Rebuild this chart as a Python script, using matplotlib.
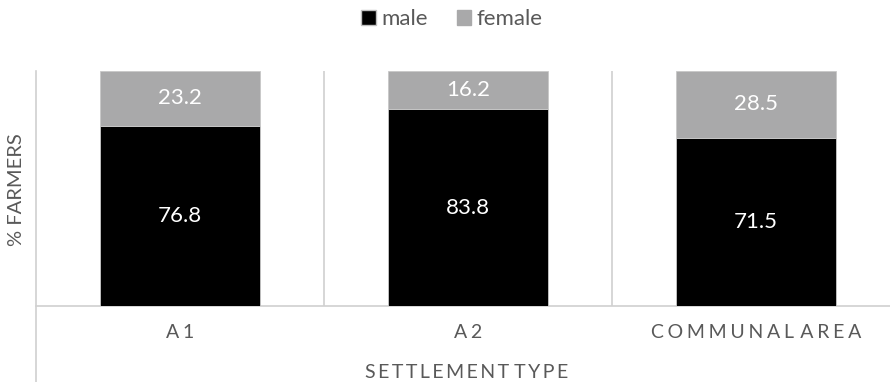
import matplotlib
matplotlib.use("Agg")
import matplotlib.pyplot as plt
from matplotlib.patches import Patch
from matplotlib.lines import Line2D

plt.rcParams['font.family'] = ['Lato', 'DejaVu Sans']

categories = ["A1", "A2", "COMMUNAL AREA"]
male = [76.8, 83.8, 71.5]
female = [23.2, 16.2, 28.5]

MALE_COLOR = "#000000"
FEMALE_COLOR = "#A9A9AA"
TEXT_COLOR = "#595959"
LINE_COLOR = "#D0D0D0"


def spaced(s, sep="\u2009\u200a"):
    # letter-spaced caps; word gaps stay narrow
    words = s.split(" ")
    return (sep + "\u2009").join(sep.join(w) for w in words)


fig = plt.figure(figsize=(8.9, 3.82), dpi=100)
W, H = 890, 382
ax = fig.add_axes([36 / W, 1 - 306 / H, 864 / W, 235 / H])

x = list(range(len(categories)))
bw = 0.555
ax.bar(x, male, width=bw, color=MALE_COLOR, edgecolor="#C8C8C8", linewidth=0.6, zorder=3)
ax.bar(x, female, width=bw, bottom=male, color=FEMALE_COLOR, edgecolor="#C8C8C8",
       linewidth=0.6, zorder=3)

for xi, m, f in zip(x, male, female):
    ax.text(xi, m / 2, f"{m}", ha="center", va="center", color="white", fontsize=16, zorder=4)
    ax.text(xi, m + f / 2, f"{f}", ha="center", va="center", color="white", fontsize=16, zorder=4)

ax.set_xlim(-0.5, len(categories) - 0.5)
ax.set_ylim(0, 100)

# vertical separators between categories
for b in [0.5, 1.5]:
    ax.axvline(b, color=LINE_COLOR, linewidth=1.2, zorder=1)

for side in ["top", "right", "left"]:
    ax.spines[side].set_visible(False)
ax.spines["bottom"].set_color(LINE_COLOR)
ax.spines["bottom"].set_linewidth(1.2)

ax.set_yticks([])
ax.set_xticks(x)
ax.set_xticklabels([spaced(c) for c in categories], color=TEXT_COLOR, fontsize=14)
ax.tick_params(axis="x", length=0, pad=13)

# left boundary line running from the top of the plot down to the figure edge
fig.add_artist(Line2D([36 / W, 36 / W], [0, 1 - 71 / H], color=LINE_COLOR, linewidth=1.2))

fig.text(17 / W, 1 - 190 / H, "% FARMERS", rotation=90, ha="center", va="center",
         color=TEXT_COLOR, fontsize=14.5)
fig.text(467 / W, 1 - 372 / H, spaced("SETTLEMENT TYPE", "\u2009"), ha="center", va="center",
         color=TEXT_COLOR, fontsize=14)

handles = [Patch(facecolor=MALE_COLOR, edgecolor="#BFBFBF", label="male"),
           Patch(facecolor=FEMALE_COLOR, edgecolor=FEMALE_COLOR, label="female")]
fig.legend(handles=handles, loc="center", bbox_to_anchor=(452 / W, 1 - 19 / H), ncol=2,
           frameon=False, fontsize=16, labelcolor=TEXT_COLOR, handlelength=0.65,
           handleheight=0.65, handletextpad=0.25, columnspacing=1.3)

fig.savefig("out.png", dpi=100)
